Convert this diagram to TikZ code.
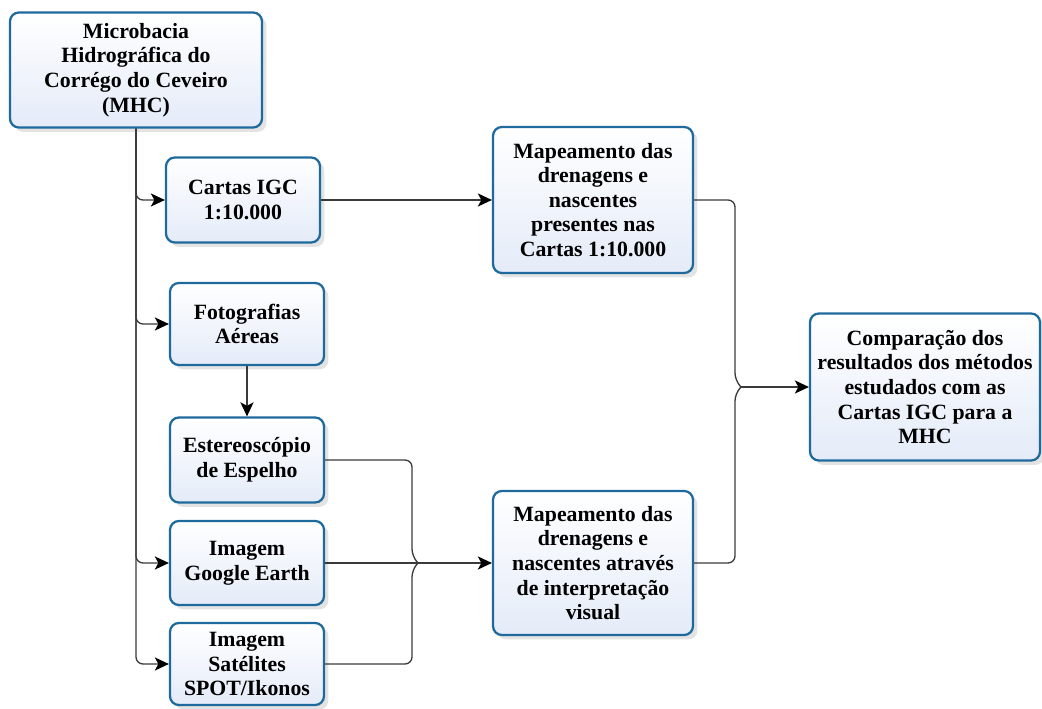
\documentclass[tikz,border=0pt]{standalone}
\usepackage{fontspec}
\setmainfont{Liberation Serif}
\usetikzlibrary{arrows.meta,shadows,calc}
\definecolor{borda}{HTML}{1F6A9C}
\definecolor{fundo}{HTML}{E4EBF8}
\definecolor{linha}{HTML}{3A3A3A}
\begin{document}
\begin{tikzpicture}[x=0.02cm, y=-0.02cm,
	caixa/.style={draw=borda, line width=1.3pt, rounded corners=5pt, top color=white, bottom color=fundo,
		drop shadow={opacity=0.22, shadow xshift=2.5pt, shadow yshift=-2.5pt},
		align=center, inner sep=2pt, font=\fontsize{12.4}{14}\selectfont\bfseries},
	seta/.style={draw=linha, line width=0.75pt, -{Stealth[length=8pt, width=7.5pt, inset=2pt, color=black]}, rounded corners=4pt},
	liga/.style={draw=linha, line width=0.75pt, rounded corners=4pt}]
	\useasboundingbox (0,0) rectangle (1042,709);
	\node[caixa, minimum width=5.04cm, minimum height=2.3cm] (mhc) at (136,70) {Microbacia\\Hidrográfica do\\Corrégo do Ceveiro\\(MHC)};
	\node[caixa, minimum width=3.08cm, minimum height=1.7cm] (cartas) at (243,200) {Cartas IGC\\1:10.000};
	\node[caixa, minimum width=3.08cm, minimum height=1.64cm] (foto) at (247,324) {Fotografias\\Aéreas};
	\node[caixa, minimum width=3.08cm, minimum height=1.7cm] (estereo) at (247,460) {Estereoscópio\\de Espelho};
	\node[caixa, minimum width=3.08cm, minimum height=1.68cm] (gearth) at (247,563) {Imagem\\Google Earth};
	\node[caixa, minimum width=3.08cm, minimum height=1.64cm] (spot) at (247,664) {Imagem\\Satélites\\SPOT/Ikonos};
	\node[caixa, minimum width=4.0cm, minimum height=2.92cm] (mapa1) at (593,200) {Mapeamento das\\drenagens e\\nascentes\\presentes nas\\Cartas 1:10.000};
	\node[caixa, minimum width=4.0cm, minimum height=2.88cm] (mapa2) at (593,563) {Mapeamento das\\drenagens e\\nascentes através\\de interpretação\\visual};
	\node[caixa, minimum width=4.6cm, minimum height=2.94cm] (comp) at (925,387) {Comparação dos\\resultados dos métodos\\estudados com as\\Cartas IGC para a\\MHC};
	\coordinate (chave1) at (418,563);
	\coordinate (chave2) at (741,387);
	\draw[seta] (mhc.south) |- (cartas.west);
	\draw[seta] (mhc.south) |- (foto.west);
	\draw[seta] (mhc.south) |- (gearth.west);
	\draw[seta] (mhc.south) |- (spot.west);
	\draw[seta] (foto) -- (estereo);
	\draw[seta] (cartas) -- (mapa1);
	\draw[liga] (estereo.east) -| ($(chave1)+(-6,-7)$) -- (chave1);
	\draw[liga] (spot.east) -| ($(chave1)+(-6,7)$) -- (chave1);
	\draw[seta] (gearth) -- (mapa2);
	\draw[liga] (mapa1.east) -| ($(chave2)+(-6,-7)$) -- (chave2);
	\draw[liga] (mapa2.east) -| ($(chave2)+(-6,7)$) -- (chave2);
	\draw[seta] (chave2) -- (comp.west);
\end{tikzpicture}
\end{document}
